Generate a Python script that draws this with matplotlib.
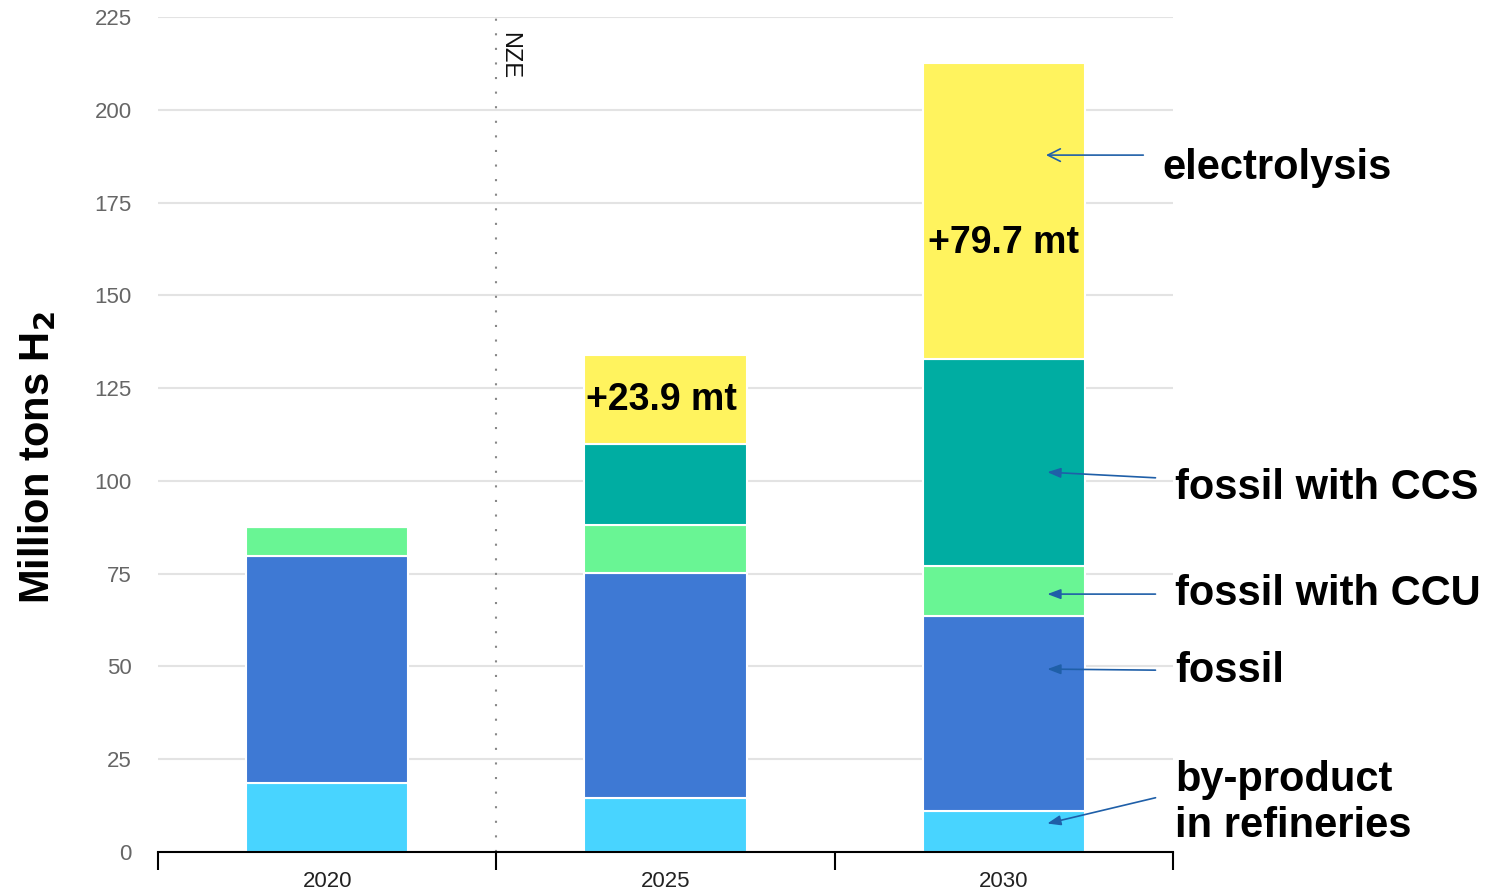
import matplotlib.pyplot as plt
import numpy as np

# hydrogen production by route, million tons H2
years = ['2020', '2025', '2030']
byproduct = [18.6, 14.5, 11.0]
fossil = [61.2, 60.7, 52.6]
fossil_ccu = [7.8, 12.9, 13.5]
fossil_ccs = [0.0, 21.9, 55.8]
electrolysis = [0.0, 23.9, 79.7]

series = [byproduct, fossil, fossil_ccu, fossil_ccs, electrolysis]
colors = ['#48D4FF', '#3E79D4', '#69F594', '#00ADA2', '#FFF35E']

plt.rcParams['font.family'] = ['Liberation Sans', 'DejaVu Sans']

fig = plt.figure(figsize=(15.05, 8.93), dpi=100)
ax = fig.add_axes([0.105, 0.0459, 0.6745, 0.935])

x = np.arange(len(years)) + 0.5
bottom = np.zeros(len(years))
for vals, c in zip(series, colors):
    vals = np.array(vals)
    ax.bar(x, vals, width=0.48, bottom=bottom, color=c, edgecolor='white',
           linewidth=1.5, zorder=3)
    bottom += vals

# electrolysis increments
ax.text(x[1] - 0.012, 121.8, '+%.1f mt' % electrolysis[1], ha='center',
        va='center', fontsize=27, fontweight='bold', zorder=4)
ax.text(x[2], 164.2, '+%.1f mt' % electrolysis[2], ha='center', va='center',
        fontsize=27, fontweight='bold', zorder=4)

ax.set_xlim(0, 3)
ax.set_ylim(0, 225)
ax.set_yticks(np.arange(0, 226, 25))
ax.grid(axis='y', color='#e3e3e3', linewidth=1.5, zorder=0)
ax.tick_params(axis='y', length=0, labelsize=16, labelcolor='#666666', pad=19)

ax.set_xticks([0, 1, 2, 3])
ax.set_xticklabels([])
ax.set_xticks(x, minor=True)
ax.set_xticklabels(years, minor=True)
ax.tick_params(axis='x', which='major', length=13, width=1.5, color='black')
ax.tick_params(axis='x', which='minor', length=0, labelsize=16,
               labelcolor='#222222', pad=14)

for s in ['top', 'right', 'left']:
    ax.spines[s].set_visible(False)
ax.spines['bottom'].set_linewidth(1.5)
ax.spines['bottom'].set_zorder(5)

# NZE marker line
ax.axvline(1, color='#888888', linestyle=(0, (1, 6)), linewidth=1.5, zorder=2)
ax.text(1.005, 221, 'NZE', rotation=-90, ha='left', va='top', fontsize=17,
        color='#111111')

fig.text(0.025, 0.488, 'Million tons H$_\\mathbf{2}$', rotation=90,
         ha='center', va='center', fontsize=30, fontweight='bold')

# route labels with arrows pointing into the 2030 bar
arrow_col = '#1F5FA8'
ax.annotate('', xy=(2.616, 187.8), xytext=(2.92, 187.8),
            arrowprops=dict(arrowstyle='->,head_length=0.9,head_width=0.45',
                            color=arrow_col, lw=1.2), annotation_clip=False)
labels = [
    ('fossil with CCS', (2.62, 102.4), (2.956, 100.8), 98.0),
    ('fossil with CCU', (2.62, 69.5), (2.956, 69.5), 69.5),
    ('fossil', (2.62, 49.3), (2.956, 49.0), 48.8),
    ('by-product\nin refineries', (2.62, 7.5), (2.956, 14.8), 13.2),
]
for txt, tip, tail, ty in labels:
    ax.annotate('', xy=tip, xytext=tail,
                arrowprops=dict(arrowstyle='-|>,head_length=0.8,head_width=0.3',
                                color=arrow_col, lw=1.2),
                annotation_clip=False, zorder=6)
    ax.text(3.005, ty, txt, ha='left', va='center', fontsize=30,
            fontweight='bold', linespacing=1.22, clip_on=False)
ax.text(2.967, 184.3, 'electrolysis', ha='left', va='center', fontsize=30,
        fontweight='bold', clip_on=False)

fig.savefig('out.png', dpi=100)
